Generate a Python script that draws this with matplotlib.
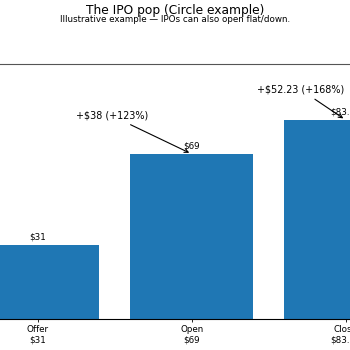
import matplotlib
matplotlib.use("Agg")
import matplotlib.pyplot as plt

stages = ["Offer", "Open", "Close"]
prices = [31, 69, 83.23]
price_labels = ["$31", "$69", "$83.23"]
gain_labels = ["+$38 (+123%)", "+$52.23 (+168%)"]

fs = 6.3

fig = plt.figure(figsize=(3.5, 3.5), dpi=100)
# axes run past the figure edges on purpose (as in the reference)
ax = fig.add_axes([-0.129, 0.0886, 1.354, 0.729])

x = range(len(stages))
ax.bar(x, prices, width=0.8, color="#1f77b4")
ax.set_ylim(0, 106.7)

for i, (v, lab) in enumerate(zip(prices, price_labels)):
    ax.text(i, v + 1.3, lab, ha="center", va="bottom", fontsize=fs)

ax.set_xticks(list(x))
ax.set_xticklabels([f"{s}\n{p}" for s, p in zip(stages, price_labels)], fontsize=fs)
ax.tick_params(axis="x", length=2.2, width=0.6, pad=2)
ax.tick_params(axis="y", labelsize=fs)

ax.annotate(gain_labels[0], xy=(1, prices[1]), xytext=(0.48, 85),
            ha="center", va="center", fontsize=6.9,
            arrowprops=dict(arrowstyle="->", lw=0.8, color="black"))
ax.annotate(gain_labels[1], xy=(2, prices[2]), xytext=(1.71, 95.8),
            ha="center", va="center", fontsize=6.9,
            arrowprops=dict(arrowstyle="->", lw=0.8, color="black"))

for sp in ax.spines.values():
    sp.set_linewidth(0.8)
ax.spines["top"].set_color("#555555")

fig.text(0.5, 0.969, "The IPO pop (Circle example)", ha="center", va="center", fontsize=8.8)
fig.text(0.5, 0.943, "Illustrative example \u2014 IPOs can also open flat/down.",
         ha="center", va="center", fontsize=fs)

fig.savefig("out.png", dpi=100)
